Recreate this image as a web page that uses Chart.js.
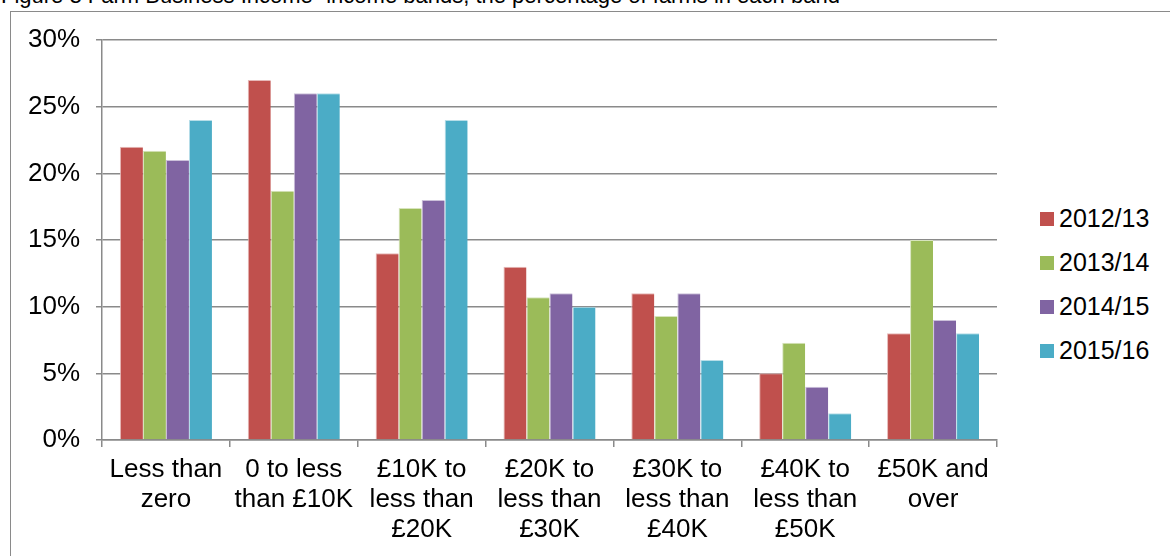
<!DOCTYPE html>
<html>
<head>
<meta charset="utf-8">
<script src="https://cdn.jsdelivr.net/npm/chart.js@4/dist/chart.umd.min.js"></script>
<style>
  body { margin: 0; background: #fff; width: 1170px; height: 556px; overflow: hidden; position: relative; font-family: "Liberation Sans", Arial, sans-serif; }
  #title { position: absolute; left: 1px; top: -17px; font-size: 22px; white-space: nowrap; color: #000; }
  #frame { position: absolute; left: 10px; top: 11px; width: 1200px; height: 600px; border: 1px solid #8a8a8a; }
  #wrap { position: absolute; left: 0; top: 0; width: 1010px; height: 556px; }
  #legend { position: absolute; left: 1040px; top: 204px; font-size: 25px; }
  #legend div { height: 44px; display: flex; align-items: flex-start; }
  #legend span.box { display: inline-block; width: 14px; height: 14px; margin: 8px 5px 0 0; }
</style>
</head>
<body>
<div id="title">Figure 3 Farm Business Income- income bands, the percentage of farms in each band</div>
<div id="frame"></div>
<div id="wrap"><canvas id="chart-area" width="1010" height="556"></canvas></div>
<div id="legend"></div>
<script>
// 所得帯（カテゴリ）
const bands = [
  ['Less than', 'zero'],
  ['0 to less', 'than £10K'],
  ['£10K to', 'less than', '£20K'],
  ['£20K to', 'less than', '£30K'],
  ['£30K to', 'less than', '£40K'],
  ['£40K to', 'less than', '£50K'],
  ['£50K and', 'over']
];
const years = ['2012/13', '2013/14', '2014/15', '2015/16'];
const colors = ['#C0504D', '#9BBB59', '#8064A2', '#4BACC6'];
const borders = ['#E6B9B8', '#D7E4BD', '#CCC1DA', '#B7DEE8'];

// 各年度の割合（%）
const fy2012 = [22, 27, 14, 13, 11, 5, 8];
const fy2013 = [21.7, 18.7, 17.4, 10.7, 9.3, 7.3, 15];
const fy2014 = [21, 26, 18, 11, 11, 4, 9];
const fy2015 = [24, 26, 24, 10, 6, 2, 8];
const yTicks = [0, 5, 10, 15, 20, 25, 30];

const series = [fy2012, fy2013, fy2014, fy2015];
const gridColor = '#8a8a8a';

var ctx = document.getElementById('chart-area').getContext('2d');
window.myBar = new Chart(ctx, {
  type: 'bar',
  data: {
    labels: bands,
    datasets: series.map((d, i) => ({
      label: years[i],
      data: d,
      backgroundColor: colors[i],
      borderColor: borders[i],
      borderWidth: { top: 1, left: 1, right: 0, bottom: 0 },
      barPercentage: 1,
      categoryPercentage: 0.72
    }))
  },
  options: {
    responsive: false,
    animation: false,
    layout: { padding: { top: 40, right: 13, left: 0, bottom: 0 } },
    plugins: { legend: { display: false }, tooltip: { enabled: false } },
    scales: {
      x: {
        grid: { drawOnChartArea: false, drawTicks: true, tickLength: 7, color: gridColor, lineWidth: 1.5 },
        border: { color: gridColor, width: 1.5 },
        ticks: { color: '#000', font: { family: 'Liberation Sans', size: 26, lineHeight: 1.15 }, padding: 8, maxRotation: 0, autoSkip: false },
        afterFit: scale => { scale.height = 116; }
      },
      y: {
        min: 0, max: 30,
        afterBuildTicks: scale => { scale.ticks = yTicks.map(v => ({ value: v })); },
        grid: { color: gridColor, lineWidth: 1.5, tickLength: 6 },
        border: { color: gridColor, width: 1.5 },
        ticks: { color: '#000', font: { family: 'Liberation Sans', size: 26 }, padding: 16, callback: v => v + '%' },
        afterFit: scale => { scale.width = 102; }
      }
    }
  }
});

// 凡例
const legend = document.getElementById('legend');
years.forEach((y, i) => {
  const row = document.createElement('div');
  row.innerHTML = `<span class="box" style="background:${colors[i]}"></span>${y}`;
  legend.appendChild(row);
});
</script>
</body>
</html>
